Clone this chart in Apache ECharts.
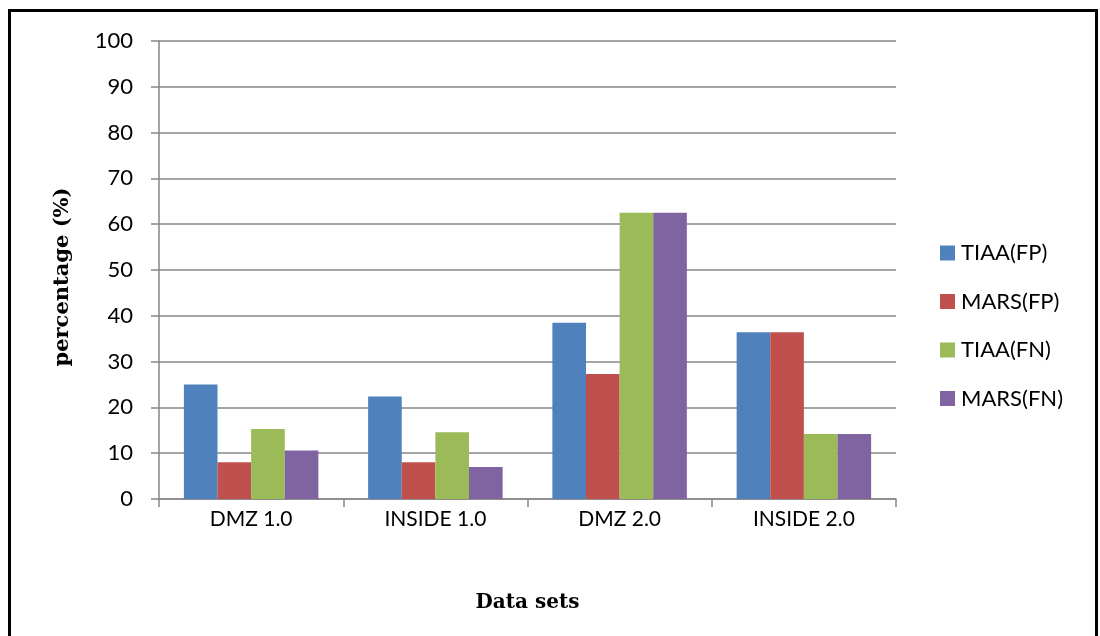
<!DOCTYPE html>
<html>
<head>
<meta charset="utf-8">
<script src="https://cdn.jsdelivr.net/npm/echarts@6/dist/echarts.min.js"></script>
<style>
  html, body { margin: 0; padding: 0; background: #fff; }
  #frame { position: absolute; left: 8px; top: 9px; width: 1084px; height: 640px;
           border-left: 3px solid #000; border-top: 3px solid #000; border-right: 3px solid #000; }
  #chart { position: absolute; left: 0; top: 0; width: 1100px; height: 636px; }
</style>
</head>
<body>
<div id="frame"></div>
<div id="chart"></div>
<script>
// Categories and values (percent)
const categories = ['DMZ 1.0', 'INSIDE 1.0', 'DMZ 2.0', 'INSIDE 2.0'];
const seriesNames = ['TIAA(FP)', 'MARS(FP)', 'TIAA(FN)', 'MARS(FN)'];
const tiaaFP = [25.0, 22.4, 38.5, 36.4];
const marsFP = [8.0, 8.0, 27.3, 36.4];
const tiaaFN = [15.3, 14.6, 62.5, 14.2];
const marsFN = [10.6, 7.0, 62.5, 14.2];
const yTicks = [0, 10, 20, 30, 40, 50, 60, 70, 80, 90, 100];

const colors = ['#4F81BD', '#C0504D', '#9BBB59', '#8064A2'];
const values = [tiaaFP, marsFP, tiaaFN, marsFN];
const labelFont = 'Lato, "Open Sans", sans-serif';
const titleFont = '"DejaVu Serif", "Liberation Serif", serif';

const chart = echarts.init(document.getElementById('chart'), null, { renderer: 'canvas' });
chart.setOption({
  animation: false,
  color: colors,
  grid: { left: 159, right: 204, top: 41, bottom: 137, containLabel: false },
  legend: {
    orient: 'vertical',
    left: 935,
    top: 237,
    itemWidth: 15,
    itemHeight: 15,
    itemGap: 26.5,
    icon: 'rect',
    data: seriesNames,
    textStyle: { fontFamily: labelFont, fontSize: 22, color: '#000', padding: [0, 0, 0, 1] }
  },
  xAxis: {
    type: 'category',
    data: categories,
    name: 'Data sets',
    nameLocation: 'middle',
    nameGap: 94,
    nameTextStyle: { fontFamily: titleFont, fontWeight: 'bold', fontSize: 20, color: '#000' },
    axisLine: { lineStyle: { color: '#868686', width: 1.5 } },
    axisTick: { show: true, length: 8, alignWithLabel: false, lineStyle: { color: '#868686', width: 1.5 } },
    axisLabel: { margin: 10, fontFamily: labelFont, fontSize: 21, color: '#000' }
  },
  yAxis: {
    type: 'value',
    min: 0,
    max: 100,
    interval: 10,
    name: 'percentage (%)',
    nameLocation: 'middle',
    nameGap: 86,
    nameTextStyle: { fontFamily: titleFont, fontWeight: 'bold', fontSize: 21, color: '#000', padding: [0, 14, 0, 0] },
    axisLine: { show: true, lineStyle: { color: '#868686', width: 1.5 } },
    axisTick: { show: true, length: 8, inside: false, lineStyle: { color: '#868686', width: 1.5 } },
    axisLabel: {
      margin: 26, fontFamily: labelFont, fontSize: 22, color: '#000',
      formatter: v => (yTicks.includes(v) ? String(v) : '')
    },
    splitLine: { show: true, lineStyle: { color: '#868686', width: 1.5 } }
  },
  series: seriesNames.map((name, i) => ({
    name: name,
    type: 'bar',
    data: values[i],
    barGap: '0%',
    barCategoryGap: '27%',
    itemStyle: { color: colors[i] }
  }))
});
</script>
</body>
</html>
